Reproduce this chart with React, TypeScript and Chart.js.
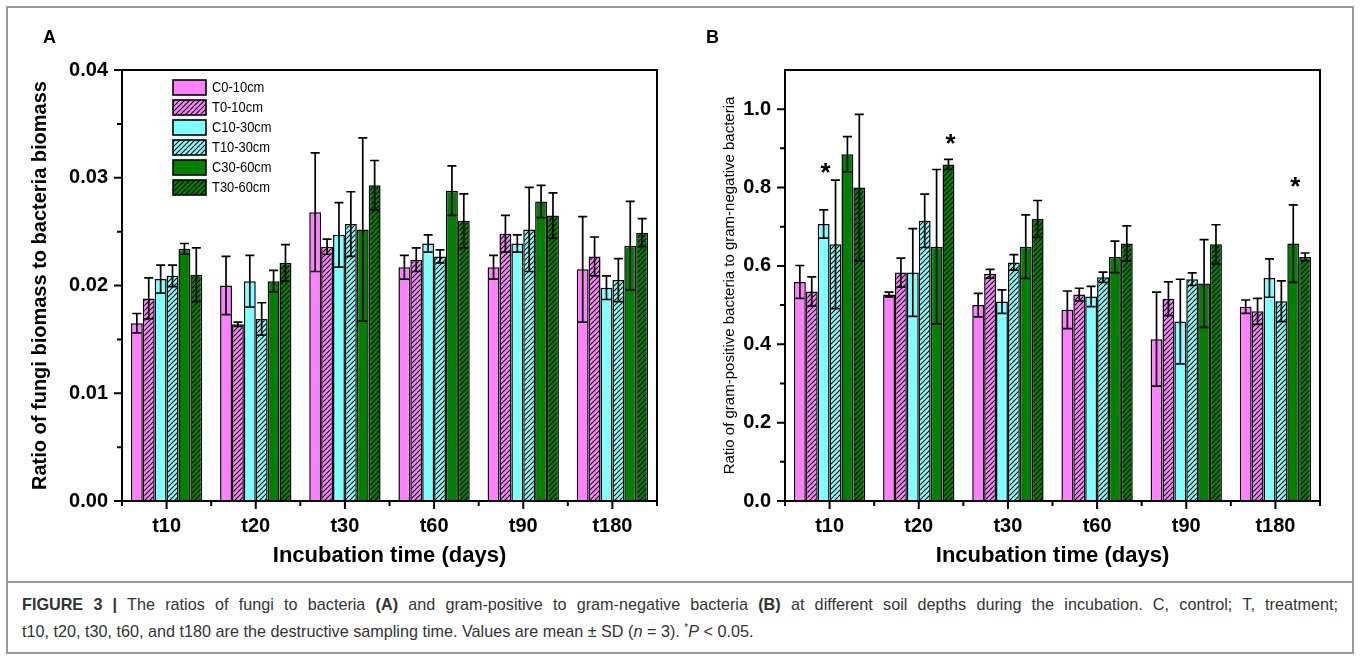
import React, { useEffect, useRef } from "react";
import { Chart, registerables } from "chart.js";

Chart.register(...registerables);

const FONT = "'Liberation Sans', Arial, Helvetica, sans-serif";
Chart.defaults.font.family = FONT;

// ---------- shared ----------
const categories = ["t10", "t20", "t30", "t60", "t90", "t180"];
const seriesNames = ["C0-10cm", "T0-10cm", "C10-30cm", "T10-30cm", "C30-60cm", "T30-60cm"];
const seriesColors = ["#ff80ff", "#ff80ff", "#80ffff", "#80ffff", "#008000", "#008000"];
const seriesHatched = [false, true, false, true, false, true];

// ---------- Panel A: fungi / bacteria biomass ----------
const fbC0_10 = [0.0165, 0.02, 0.0268, 0.0217, 0.0217, 0.0215];
const fbT0_10 = [0.0188, 0.0164, 0.0236, 0.0224, 0.0248, 0.0227];
const fbC10_30 = [0.0206, 0.0204, 0.0247, 0.0239, 0.0239, 0.0198];
const fbT10_30 = [0.0209, 0.0169, 0.0257, 0.0227, 0.0252, 0.0205];
const fbC30_60 = [0.0234, 0.0204, 0.0252, 0.0288, 0.0278, 0.0237];
const fbT30_60 = [0.021, 0.0221, 0.0293, 0.026, 0.0265, 0.0249];

const fbSdC0_10 = [0.0009, 0.0027, 0.0055, 0.0011, 0.0011, 0.0049];
const fbSdT0_10 = [0.0019, 0.0002, 0.0007, 0.0011, 0.0017, 0.0018];
const fbSdC10_30 = [0.0013, 0.0024, 0.003, 0.0008, 0.0008, 0.0011];
const fbSdT10_30 = [0.001, 0.0015, 0.003, 0.0006, 0.0039, 0.002];
const fbSdC30_60 = [0.0005, 0.001, 0.0085, 0.0023, 0.0015, 0.0041];
const fbSdT30_60 = [0.0025, 0.0017, 0.0023, 0.0025, 0.0021, 0.0013];

const yTicksA = [0, 0.01, 0.02, 0.03, 0.04];
const yMinorA = [0.005, 0.015, 0.025, 0.035];

// ---------- Panel B: gram-positive / gram-negative ----------
const gpC0_10 = [0.559, 0.527, 0.5, 0.488, 0.413, 0.496];
const gpT0_10 = [0.535, 0.583, 0.58, 0.527, 0.516, 0.484];
const gpC10_30 = [0.707, 0.583, 0.509, 0.522, 0.458, 0.569];
const gpT10_30 = [0.655, 0.715, 0.609, 0.571, 0.566, 0.51];
const gpC30_60 = [0.885, 0.649, 0.649, 0.623, 0.555, 0.657];
const gpT30_60 = [0.8, 0.859, 0.72, 0.657, 0.655, 0.623];

const gpSdC0_10 = [0.042, 0.006, 0.03, 0.048, 0.12, 0.017];
const gpSdT0_10 = [0.037, 0.037, 0.011, 0.016, 0.043, 0.033];
const gpSdC10_30 = [0.036, 0.112, 0.03, 0.026, 0.108, 0.049];
const gpSdT10_30 = [0.164, 0.068, 0.02, 0.013, 0.016, 0.052];
const gpSdC30_60 = [0.045, 0.197, 0.081, 0.04, 0.112, 0.099];
const gpSdT30_60 = [0.187, 0.013, 0.047, 0.045, 0.05, 0.01];

const yTicksB = [0, 0.2, 0.4, 0.6, 0.8, 1.0];
const yMinorB = [0.1, 0.3, 0.5, 0.7, 0.9];

// significance markers (panel B): category index, series index, y value of the star
const sigCategory = [0, 1, 5];
const sigSeries = [2, 5, 4];
const sigValue = [0.855, 0.929, 0.819];

type PanelCfg = {
  means: number[][];
  sds: number[][];
  yMax: number;
  yTicks: number[];
  yMinor: number[];
  decimals: number;
  yTitle: string;
  yTitleFont: { size: number; weight: string };
  padLeft: number;
  padRight: number;
  yWidth: number;
  legend: boolean;
  sig: boolean;
};

function makeFill(ctx: CanvasRenderingContext2D, color: string, hatched: boolean): any {
  if (!hatched) return color;
  const s = 5;
  const c = document.createElement("canvas");
  c.width = s;
  c.height = s;
  const g = c.getContext("2d")!;
  g.fillStyle = color;
  g.fillRect(0, 0, s, s);
  g.strokeStyle = "#000";
  g.lineWidth = 1.1;
  g.beginPath();
  g.moveTo(-1, s + 1);
  g.lineTo(s + 1, -1);
  g.moveTo(-1, 1);
  g.lineTo(1, -1);
  g.moveTo(s - 1, s + 1);
  g.lineTo(s + 1, s - 1);
  g.stroke();
  return ctx.createPattern(c, "repeat");
}

function errorPlugin(sds: number[][]) {
  return {
    id: "errbars",
    afterDatasetsDraw(chart: any) {
      const ctx = chart.ctx;
      const y = chart.scales.y;
      chart.data.datasets.forEach((ds: any, di: number) => {
        const meta = chart.getDatasetMeta(di);
        meta.data.forEach((bar: any, i: number) => {
          const v = ds.data[i];
          const sd = sds[di][i];
          const x = bar.x;
          const cw = bar.width * 0.38;
          const yTop = y.getPixelForValue(v + sd);
          const yBot = y.getPixelForValue(v - sd);
          ctx.save();
          ctx.strokeStyle = "#000";
          ctx.lineWidth = 1.7;
          ctx.beginPath();
          ctx.moveTo(x, yTop);
          ctx.lineTo(x, yBot);
          ctx.moveTo(x - cw, yTop);
          ctx.lineTo(x + cw, yTop);
          ctx.moveTo(x - cw, yBot);
          ctx.lineTo(x + cw, yBot);
          ctx.stroke();
          ctx.restore();
        });
      });
    },
  };
}

function axesPlugin(p: PanelCfg) {
  return {
    id: "frameTicks",
    afterDraw(chart: any) {
      const ctx = chart.ctx;
      const { left, right, top, bottom } = chart.chartArea;
      const x = chart.scales.x;
      const y = chart.scales.y;
      ctx.save();
      ctx.strokeStyle = "#000";
      ctx.lineWidth = 2;
      ctx.strokeRect(left, top, right - left, bottom - top);
      ctx.beginPath();
      p.yTicks.forEach((v) => {
        const py = y.getPixelForValue(v);
        ctx.moveTo(left - 8, py);
        ctx.lineTo(left, py);
      });
      p.yMinor.forEach((v) => {
        const py = y.getPixelForValue(v);
        ctx.moveTo(left - 5, py);
        ctx.lineTo(left, py);
      });
      const catW = (right - left) / categories.length;
      categories.forEach((_, i) => {
        const px = x.getPixelForValue(i);
        ctx.moveTo(px, bottom);
        ctx.lineTo(px, bottom + 8);
      });
      for (let k = 0; k <= categories.length; k++) {
        const px = left + k * catW;
        ctx.moveTo(px, bottom);
        ctx.lineTo(px, bottom + 5);
      }
      ctx.stroke();
      ctx.restore();
    },
  };
}

const legendPlugin = {
  id: "boxLegend",
  afterDraw(chart: any) {
    const ctx = chart.ctx;
    const { left, top } = chart.chartArea;
    const bx = left + 51;
    chart.data.datasets.forEach((ds: any, i: number) => {
      const by = top + 10 + i * 20;
      ctx.save();
      ctx.fillStyle = ds.backgroundColor;
      ctx.fillRect(bx, by, 33, 15);
      ctx.strokeStyle = "#000";
      ctx.lineWidth = 1.6;
      ctx.strokeRect(bx, by, 33, 15);
      ctx.translate(bx + 39, by + 8);
      ctx.scale(0.86, 1);
      ctx.fillStyle = "#000";
      ctx.font = `15px ${FONT}`;
      ctx.textBaseline = "middle";
      ctx.textAlign = "left";
      ctx.fillText(ds.label, 0, 0);
      ctx.restore();
    });
  },
};

const sigPlugin = {
  id: "sigStars",
  afterDraw(chart: any) {
    const ctx = chart.ctx;
    const y = chart.scales.y;
    sigCategory.forEach((ci, k) => {
      const bar = chart.getDatasetMeta(sigSeries[k]).data[ci];
      const py = y.getPixelForValue(sigValue[k]);
      ctx.save();
      ctx.fillStyle = "#000";
      ctx.font = `bold 26px ${FONT}`;
      ctx.textAlign = "center";
      ctx.textBaseline = "alphabetic";
      ctx.fillText("*", bar.x + 2, py + 15);
      ctx.restore();
    });
  },
};

function buildConfig(canvas: HTMLCanvasElement, p: PanelCfg): any {
  const ctx = canvas.getContext("2d")!;
  const fills = seriesColors.map((c, i) => makeFill(ctx, c, seriesHatched[i]));
  const plugins: any[] = [errorPlugin(p.sds), axesPlugin(p)];
  if (p.legend) plugins.push(legendPlugin);
  if (p.sig) plugins.push(sigPlugin);
  return {
    type: "bar",
    data: {
      labels: categories,
      datasets: seriesNames.map((name, i) => ({
        label: name,
        data: p.means[i],
        backgroundColor: fills[i],
        borderColor: "#000",
        borderWidth: 1.5,
        borderSkipped: "start",
        categoryPercentage: 0.8,
        barPercentage: 1.0,
      })),
    },
    options: {
      animation: false,
      responsive: false,
      maintainAspectRatio: false,
      devicePixelRatio: 1,
      layout: { padding: { left: p.padLeft, right: p.padRight, top: 70, bottom: 11 } },
      plugins: { legend: { display: false }, tooltip: { enabled: false } },
      scales: {
        x: {
          grid: { display: false, drawTicks: false },
          border: { display: false },
          ticks: { color: "#000", padding: 13, font: { family: FONT, size: 20, weight: "bold" } },
          title: {
            display: true,
            text: "Incubation time (days)",
            color: "#000",
            padding: 0,
            font: { family: FONT, size: 22, weight: "bold" },
          },
          afterFit: (s: any) => {
            s.height = 68;
          },
        },
        y: {
          min: 0,
          max: p.yMax,
          grid: { display: false, drawTicks: false },
          border: { display: false },
          afterBuildTicks: (s: any) => {
            s.ticks = p.yTicks.map((v) => ({ value: v }));
          },
          ticks: {
            color: "#000",
            padding: 14,
            font: { family: FONT, size: 20, weight: "bold" },
            callback: (v: any) => Number(v).toFixed(p.decimals),
          },
          title: {
            display: true,
            text: p.yTitle,
            color: "#000",
            padding: 0,
            font: { family: FONT, size: p.yTitleFont.size, weight: p.yTitleFont.weight },
          },
          afterFit: (s: any) => {
            s.width = p.yWidth;
          },
        },
      },
    },
    plugins,
  };
}

function Panel({ cfg, left }: { cfg: PanelCfg; left: number }) {
  const ref = useRef<HTMLCanvasElement>(null);
  useEffect(() => {
    const chart = new Chart(ref.current!, buildConfig(ref.current!, cfg));
    return () => chart.destroy();
  }, []);
  return (
    <canvas
      ref={ref}
      width={680}
      height={580}
      style={{ position: "absolute", left, top: 0, width: 680, height: 580 }}
    />
  );
}

const panelA: PanelCfg = {
  means: [fbC0_10, fbT0_10, fbC10_30, fbT10_30, fbC30_60, fbT30_60],
  sds: [fbSdC0_10, fbSdT0_10, fbSdC10_30, fbSdT10_30, fbSdC30_60, fbSdT30_60],
  yMax: 0.04,
  yTicks: yTicksA,
  yMinor: yMinorA,
  decimals: 2,
  yTitle: "Ratio of fungi biomass to bacteria biomass",
  yTitleFont: { size: 20, weight: "bold" },
  padLeft: 28,
  padRight: 23,
  yWidth: 94,
  legend: true,
  sig: false,
};

const panelB: PanelCfg = {
  means: [gpC0_10, gpT0_10, gpC10_30, gpT10_30, gpC30_60, gpT30_60],
  sds: [gpSdC0_10, gpSdT0_10, gpSdC10_30, gpSdT10_30, gpSdC30_60, gpSdT30_60],
  yMax: 1.1,
  yTicks: yTicksB,
  yMinor: yMinorB,
  decimals: 1,
  yTitle: "Ratio of gram-positive bacteria to gram-negative bacteria",
  yTitleFont: { size: 15, weight: "normal" },
  padLeft: 41,
  padRight: 40,
  yWidth: 64,
  legend: false,
  sig: true,
};

const captionStyle: React.CSSProperties = {
  fontSize: 16.2,
  lineHeight: "24px",
  color: "#333",
  whiteSpace: "nowrap",
};

export default function App() {
  return (
    <div
      style={{
        position: "absolute",
        left: 0,
        top: 0,
        width: 1360,
        height: 660,
        background: "#fff",
        overflow: "hidden",
        fontFamily: FONT,
      }}
    >
      <div
        style={{
          position: "absolute",
          left: 6,
          top: 6,
          width: 1348,
          height: 648,
          border: "2px solid #9a9a9a",
          boxSizing: "border-box",
        }}
      />
      <div style={{ position: "absolute", left: 6, top: 581, width: 1348, height: 2, background: "#9a9a9a" }} />
      <Panel cfg={panelA} left={0} />
      <Panel cfg={panelB} left={680} />
      <div
        style={{ position: "absolute", left: 43, top: 28, fontSize: 18, lineHeight: "18px", fontWeight: "bold", color: "#000" }}
      >
        A
      </div>
      <div
        style={{ position: "absolute", left: 706, top: 28, fontSize: 18, lineHeight: "18px", fontWeight: "bold", color: "#000" }}
      >
        B
      </div>
      <div style={{ position: "absolute", left: 22, top: 592, width: 1316 }}>
        <div style={{ ...captionStyle, whiteSpace: "normal", textAlign: "justify", textAlignLast: "justify" }}>
          <b>FIGURE 3 |</b> The ratios of fungi to bacteria <b>(A)</b> and gram-positive to gram-negative bacteria{" "}
          <b>(B)</b> at different soil depths during the incubation. C, control; T, treatment;
        </div>
        <div style={captionStyle}>
          t10, t20, t30, t60, and t180 are the destructive sampling time. Values are mean ± SD (<i>n</i> = 3).{" "}
          <sup style={{ fontSize: 10 }}>*</sup>
          <i>P</i> &lt; 0.05.
        </div>
      </div>
    </div>
  );
}
